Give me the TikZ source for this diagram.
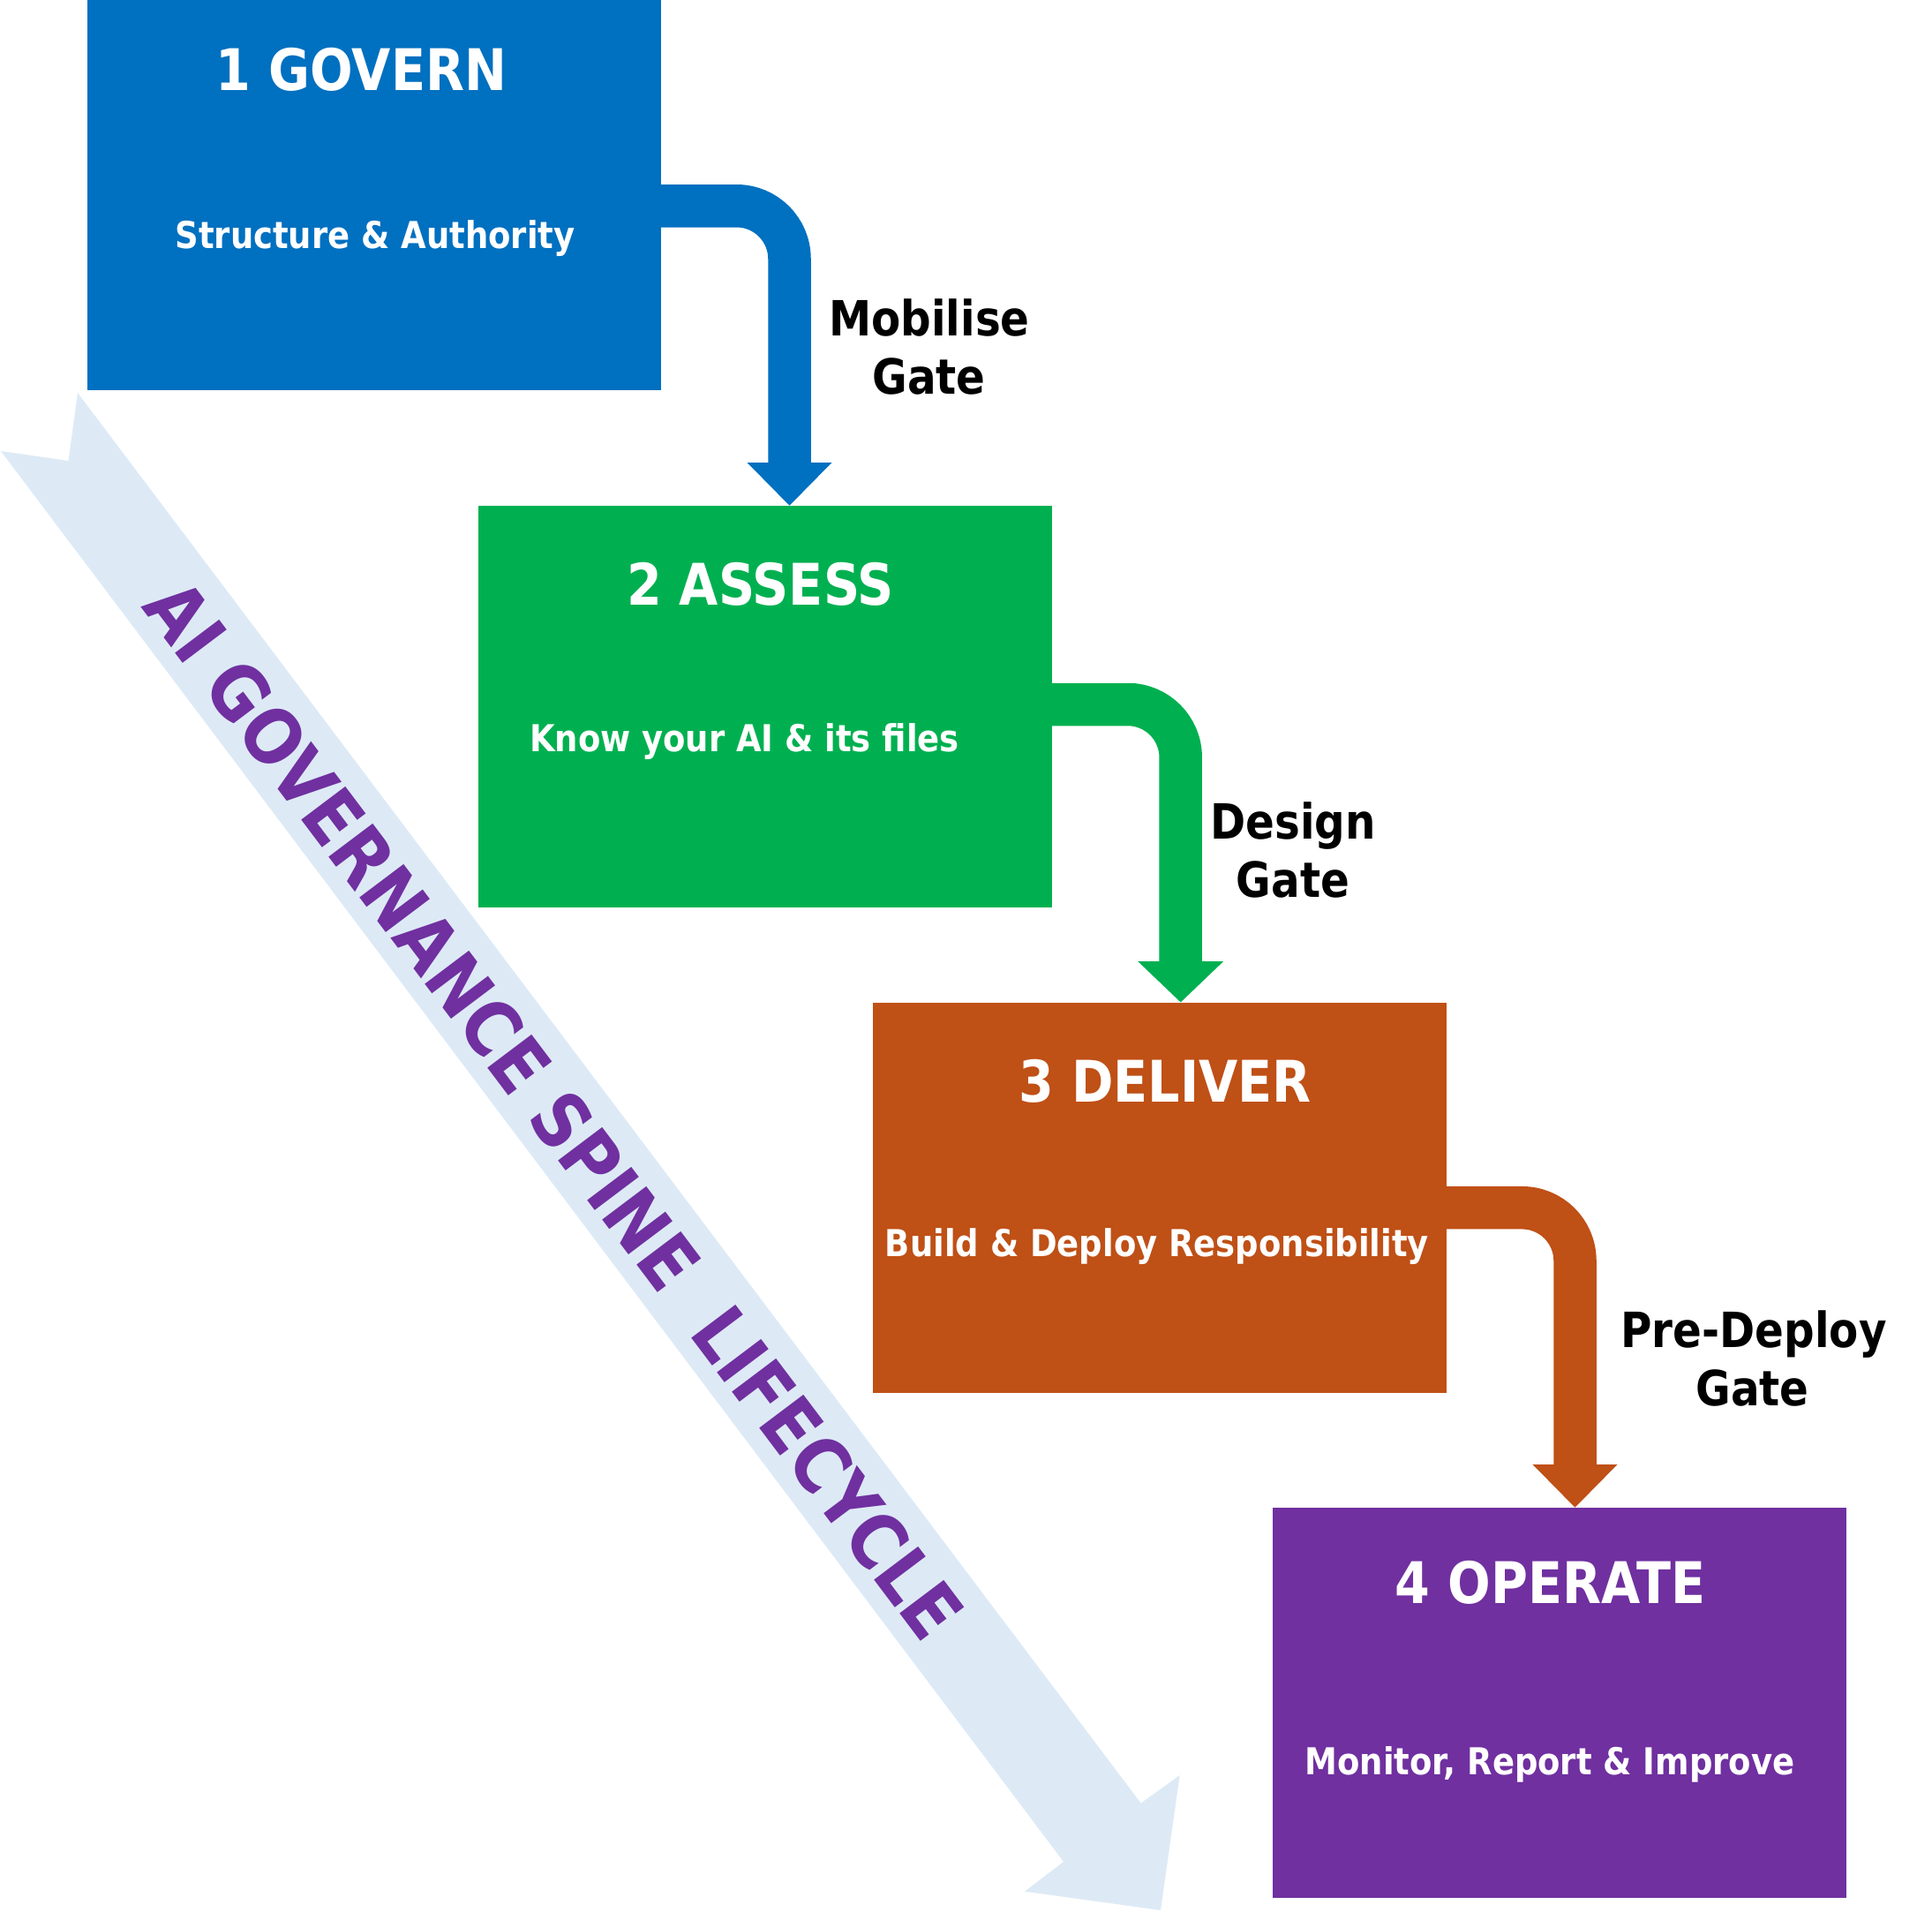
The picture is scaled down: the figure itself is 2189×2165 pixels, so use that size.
\documentclass[tikz,border=0pt]{standalone}
\usepackage{fontspec}
\setmainfont{DejaVu Sans}[FakeStretch=0.88]
\definecolor{cgov}{HTML}{0070C0}
\definecolor{cass}{HTML}{00B050}
\definecolor{cdel}{HTML}{BF5016}
\definecolor{cope}{HTML}{7030A0}
\definecolor{cspine}{HTML}{DDEAF6}
\begin{document}
\begin{tikzpicture}[x=1pt,y=-1pt,
  stage/.style={rectangle, inner sep=0pt, minimum width=650pt, minimum height=442pt, fill=#1},
  ttl/.style={anchor=base, inner sep=0pt, text=white, font=\bfseries\fontsize{65}{78}\selectfont},
  sub/.style={anchor=base, inner sep=0pt, text=white, font=\bfseries\fontsize{42}{50}\selectfont},
  gate/.style={anchor=base, inner sep=0pt, text=black, font=\bfseries\fontsize{55}{66}\selectfont},
  band/.style={draw=#1, line width=48.5pt, rounded corners=60pt},
  headfill/.style={fill=#1},
  spinetext/.style={inner sep=0pt, text=cope, rotate=-53, font=\bfseries\fontsize{86}{100}\selectfont}
  ]
\path[use as bounding box] (0,0) rectangle (2189,2165);

% spine arrow
\fill[cspine] (88,445) -- (1292.7,2042.7) -- (1336.7,2011) -- (1315,2164)
  -- (1161,2142.7) -- (1205,2109) -- (1,511) -- (77.5,522) -- cycle;
\node[spinetext] (spine) at (628,1257) {AI GOVERNANCE SPINE\ \ LIFECYCLE};

% connector coordinates
\coordinate (y1) at (0,233.25);
\coordinate (a1c) at (894.5,233.25);
\coordinate (a1x) at (894.5,524);
\coordinate (y2) at (0,798);
\coordinate (a2c) at (1337.7,798);
\coordinate (a2x) at (1337.7,1089);
\coordinate (y3) at (0,1368.2);
\coordinate (a3c) at (1784.5,1368.2);
\coordinate (a3x) at (1784.5,1659);

% stage boxes (placed first so connectors can start from their anchors)
\path (424,221) node[stage=cgov] (b1) {};
\path (867.3,800.4) node[stage=cass, minimum height=455pt] (b2) {};
\path (1314.4,1356.6) node[stage=cdel] (b3) {};
\path (1766.8,1928.9) node[stage=cope] (b4) {};

% connector bands start inside each box, so box colour and band meet without a seam
\draw[band=cgov] ([xshift=-30pt]b1.east |- y1) -- (a1c) -- (a1x);
\fill[headfill=cgov] (846.5,524) -- (942.5,524) -- (b2.north -| a1x) -- cycle;
\draw[band=cass] ([xshift=-30pt]b2.east |- y2) -- (a2c) -- (a2x);
\fill[headfill=cass] (1289.2,1089) -- (1386.2,1089) -- (b3.north -| a2x) -- cycle;
\draw[band=cdel] ([xshift=-30pt]b3.east |- y3) -- (a3c) -- (a3x);
\fill[headfill=cdel] (1736.5,1659) -- (1832.5,1659) -- (b4.north -| a3x) -- cycle;

% titles and subtitles
\node[ttl] (t1) at (409.5,102.7) {1 GOVERN};
\node[sub] (s1) at (425,281.7) {Structure \& Authority};
\node[ttl] (t2) at (861.5,685.5) {2 ASSESS};
\node[sub] (s2) at (843.5,851.6) {Know your AI \& its files};
\node[ttl] (t3) at (1320,1248.3) {3 DELIVER};
\node[sub] (s3) at (1311,1423.3) {Build \& Deploy Responsibility};
\node[ttl] (t4) at (1756.6,1816) {4 OPERATE};
\node[sub] (s4) at (1756,2010.7) {Monitor, Report \& Improve};

% gate labels
\node[gate] (g1a) at (1053,380) {Mobilise};
\node[gate] (g1b) at (1052.5,446) {Gate};
\node[gate] (g2a) at (1465,950) {Design};
\node[gate] (g2b) at (1465,1016) {Gate};
\node[gate] (g3a) at (1987,1526.7) {Pre-Deploy};
\node[gate] (g3b) at (1985.5,1592.7) {Gate};
\end{tikzpicture}
\end{document}
